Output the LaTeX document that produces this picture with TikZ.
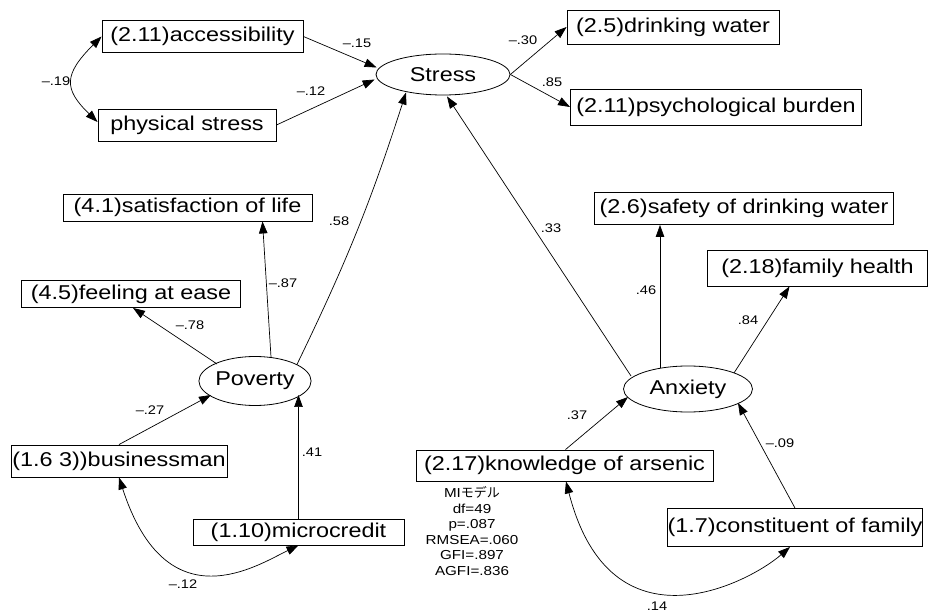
\documentclass[tikz,border=0pt]{standalone}
\usepackage{fontspec}
\setmainfont[FakeStretch=1.17]{Liberation Sans}
\newfontfamily\jpfont{Noto Sans CJK JP}
\usetikzlibrary{arrows.meta,shapes.geometric,calc}
\begin{document}
\begin{tikzpicture}[x=1pt,y=-1pt,
  box/.style={draw, line width=0.9pt, rectangle, inner sep=0pt, font=\fontsize{20}{20}\selectfont},
  lat/.style={draw, line width=0.8pt, ellipse, inner sep=0pt, font=\fontsize{20}{20}\selectfont},
  path/.style={line width=0.7pt, -{Triangle[length=12pt,width=8.5pt]}},
  cov/.style={line width=0.7pt, {Triangle[length=12pt,width=8.5pt]}-{Triangle[length=12pt,width=8.5pt]}},
  lab/.style={font=\fontsize{12.5}{12.5}\selectfont, inner sep=0pt},
  stat/.style={font=\fontsize{13}{15.5}\selectfont, inner sep=0pt, align=center}]
\path[fill=white] (0,0) rectangle (951,612);
\useasboundingbox (0,0) rectangle (951,612);
% nodes
\node[box, minimum width=201pt, minimum height=32pt] (acc) at (202.5,36.5) {(2.11)accessibility};
\node[box, minimum width=178pt, minimum height=32pt] (phys) at (187,125) {physical stress};
\node[lat, minimum width=134pt, minimum height=41pt] (stress) at (443,74.5) {Stress};
\node[box, minimum width=212pt, minimum height=34pt] (water) at (673,27) {(2.5)drinking water};
\node[box, minimum width=291pt, minimum height=36pt] (psych) at (716,107) {(2.11)psychological burden};
\node[box, minimum width=249pt, minimum height=27pt] (satis) at (187.5,207.5) {(4.1)satisfaction of life};
\node[box, minimum width=219pt, minimum height=27pt] (ease) at (131,294) {(4.5)feeling at ease};
\node[lat, minimum width=105pt, minimum height=49pt] (pov) at (255,381) {Poverty};
\node[box, minimum width=216pt, minimum height=32pt] (biz) at (119,461) {(1.6 3))businessman};
\node[box, minimum width=211pt, minimum height=26pt] (micro) at (298.5,532) {(1.10)microcredit};
\node[box, minimum width=299pt, minimum height=32pt] (safe) at (744,208.5) {(2.6)safety of drinking water};
\node[box, minimum width=220pt, minimum height=36pt] (health) at (817.5,268) {(2.18)family health};
\node[lat, minimum width=129pt, minimum height=46pt] (anx) at (688,389) {Anxiety};
\node[box, minimum width=297pt, minimum height=31pt] (know) at (564.5,465.5) {(2.17)knowledge of arsenic};
\node[box, minimum width=251pt, minimum height=38pt] (const) at (795,527.5) {(1.7)constituent of family};
\node[stat] (stats) at (472,531) {MI{\jpfont モデル}\\df=49\\p=.087\\RMSEA=.060\\GFI=.897\\AGFI=.836};
% connectors
\draw[path] (acc.east) -- ($(stress.west)+(1,-7)$);
\draw[path] (phys.east) -- ($(stress.west)+(-1,5)$);
\draw[cov] (acc.west) .. controls +(-38,38) and +(-34,-33) .. ($(phys.west)+(0,-3)$);
\draw[path] (stress.east) -- (water.west);
\draw[path] (stress.east) -- (psych.west);
\draw[path] ($(pov.center)+(41.7,-16)$) to[bend right=4] ($(stress.center)+(-37,18)$);
\draw[path] ($(anx.center)+(-57,-13)$) -- ($(stress.south)+(4,1)$);
\draw[path] ($(pov.north)+(16,1)$) -- ($(satis.south)+(75,0)$);
\draw[path] ($(pov.center)+(-38,-17)$) -- ($(ease.south)+(2,0)$);
\draw[path] (biz.north) -- ($(pov.center)+(-44,14)$);
\draw[path] (micro.north) -- ($(pov.center)+(43.5,14)$);
\draw[cov] (biz.south) .. controls +(48,148) and +(-40,19) .. (micro.south);
\draw[path] ($(anx.center)+(-28,-21)$) -- ($(safe.south)+(-84,0)$);
\draw[path] ($(anx.center)+(46,-16)$) -- ($(health.south)+(-28,0)$);
\draw[path] ($(know.north)+(1,0)$) -- ($(anx.center)+(-60,8)$);
\draw[path] (const.north) -- ($(anx.center)+(50,14)$);
\draw[cov] ($(know.south)+(1.5,0)$) .. controls +(45,175) and +(-40,35) .. ($(const.south)+(-5,0)$);
% labels
\node[lab] (l1) at (357,43) {\textendash.15};
\node[lab] (l2) at (311,91) {\textendash.12};
\node[lab] (l3) at (56,81) {\textendash.19};
\node[lab] (l4) at (523,40) {\textendash.30};
\node[lab] (l5) at (552,82) {.85};
\node[lab] (l6) at (339,221) {.58};
\node[lab] (l7) at (551,228) {.33};
\node[lab] (l8) at (283,283) {\textendash.87};
\node[lab] (l9) at (190,325) {\textendash.78};
\node[lab] (l10) at (150,410) {\textendash.27};
\node[lab] (l11) at (312,452) {.41};
\node[lab] (l12) at (183,584) {\textendash.12};
\node[lab] (l13) at (646,290) {.46};
\node[lab] (l14) at (748,320) {.84};
\node[lab] (l15) at (577,415) {.37};
\node[lab] (l16) at (780,443) {\textendash.09};
\node[lab] (l17) at (657,606) {.14};
\end{tikzpicture}
\end{document}
